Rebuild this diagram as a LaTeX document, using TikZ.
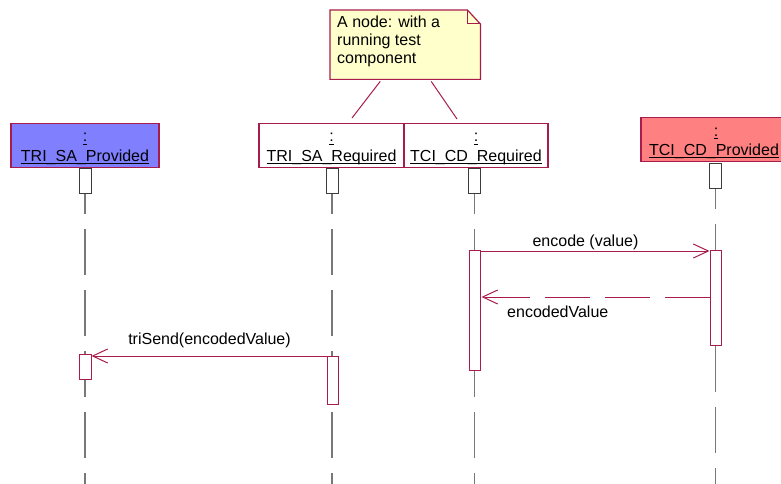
\documentclass[tikz,border=0pt]{standalone}
\usepackage{fontspec}
\setmainfont{Liberation Sans}
\usetikzlibrary{arrows.meta,calc}
\definecolor{umlred}{RGB}{168,28,76}
\definecolor{lifegray}{RGB}{120,120,120}
\definecolor{headgray}{RGB}{60,60,60}
\definecolor{provblue}{RGB}{128,128,255}
\definecolor{provred}{RGB}{255,128,128}
\definecolor{noteyellow}{RGB}{255,255,204}
\newcommand\ulx[1]{\setbox0\hbox{#1}\rlap{\rule[-0.2em]{\wd0}{0.075em}}\box0}
\begin{document}
\begin{tikzpicture}[x=1pt,y=-1pt,
  font=\fontsize{16}{19}\selectfont,
  objbox/.style={draw=umlred, line width=1.2pt, minimum height=44pt, inner sep=0pt, anchor=north},
  lbl/.style={inner sep=0pt, anchor=base},
  headbox/.style={draw=headgray, fill=white, line width=1pt, minimum width=12pt, minimum height=25pt, inner sep=0pt, anchor=north},
  actbar/.style={draw=umlred, fill=white, line width=1pt, minimum width=11pt, inner sep=0pt, anchor=north},
  lifeline/.style={draw=lifegray, line width=1.2pt, dash pattern=on 46pt off 15pt},
  msg/.style={draw=umlred, line width=1pt, -{Straight Barb[length=15pt,width=14pt,line width=1pt]}},
  retmsg/.style={msg, dash pattern=on 45pt off 15pt},
  notelink/.style={draw=umlred, line width=1pt}]
\useasboundingbox (0,0) rectangle (781,484);
% lifelines
\coordinate (s1) at (85,168);   \coordinate (e1) at (85,484);
\coordinate (s2) at (332,168);  \coordinate (e2) at (332,484);
\coordinate (s3) at (474.5,168);\coordinate (e3) at (474.5,484);
\coordinate (s4) at (715.5,163);\coordinate (e4) at (715.5,484);
\draw[lifeline] (s1) -- (e1);
\draw[lifeline] (s2) -- (e2);
\draw[lifeline] (s3) -- (e3);
\draw[lifeline] (s4) -- (e4);
% objects
\node[objbox, fill=provblue, minimum width=148pt] (o1) at (85,123) {};
\node[objbox, fill=white, minimum width=145pt] (o2) at (331.5,123) {};
\node[objbox, fill=white, minimum width=144pt] (o3) at (476,123) {};
\node[objbox, fill=provred, minimum width=150pt] (o4) at (716,117) {};
\node[lbl] (o1c) at (85,142) {\ulx{:}};
\node[lbl] (o1n) at (85,161) {\ulx{TRI\_SA\_Provided}};
\node[lbl] (o2c) at (331.5,142) {\ulx{:}};
\node[lbl] (o2n) at (331.5,161) {\ulx{TRI\_SA\_Required}};
\node[lbl] (o3c) at (476,142) {\ulx{:}};
\node[lbl] (o3n) at (476,161) {\ulx{TCI\_CD\_Required}};
\node[lbl] (o4c) at (716,136) {\ulx{:}};
\node[lbl] (o4n) at (714,155) {\ulx{TCI\_CD\_Provided}};
% head boxes
\node[headbox] (h1) at (s1) {};
\node[headbox] (h2) at (s2) {};
\node[headbox] (h3) at (s3) {};
\node[headbox] (h4) at (s4) {};
% activation bars
\node[actbar, minimum height=120pt] (a3) at (474.5,250) {};
\node[actbar, minimum height=95pt] (a4) at (715.5,250) {};
\node[actbar, minimum height=48pt] (a2) at (332.5,356) {};
\node[actbar, minimum height=25pt, minimum width=12pt] (a1) at (85,354) {};
% messages
\draw[msg] ($(a3.north east)+(0,1)$) -- ($(a4.north west)+(0,1)$);
\node[lbl] (m1) at (585.5,246) {encode (value)};
\draw[retmsg] ($(a4.north west)+(0,47)$) -- ($(a3.north east)+(1,47)$);
\node[lbl, anchor=base west] (m2) at (507,317) {encodedValue};
\draw[msg] ($(a2.north west)+(0,0)$) -- ($(a1.north east)+(0,2)$);
\node[lbl] (m3) at (209.5,344) {triSend(encodedValue)};
% note
\node[minimum width=150pt, minimum height=69pt, inner sep=0pt, anchor=north west] (note) at (330,10) {};
\draw[draw=umlred, fill=noteyellow, line width=1.2pt]
  (note.north west) -- ($(note.north east)+(-13,0)$) -- ($(note.north east)+(0,14)$) -- (note.south east) -- (note.south west) -- cycle;
\draw[draw=umlred, line width=1pt] ($(note.north east)+(-13,0)$) -- ($(note.north east)+(-13,14)$) -- ($(note.north east)+(0,14)$);
\node[lbl, anchor=base west] (t1) at (337,28) {A node: with a};
\node[lbl, anchor=base west] (t2) at (337,46) {running test};
\node[lbl, anchor=base west] (t3) at (337,64) {component};
\coordinate (c1) at (352,118);
\coordinate (c2) at (457,119);
\draw[notelink] ($(note.south)+(-25,2)$) -- (c1);
\draw[notelink] ($(note.south)+(26,2)$) -- (c2);
\end{tikzpicture}
\end{document}
